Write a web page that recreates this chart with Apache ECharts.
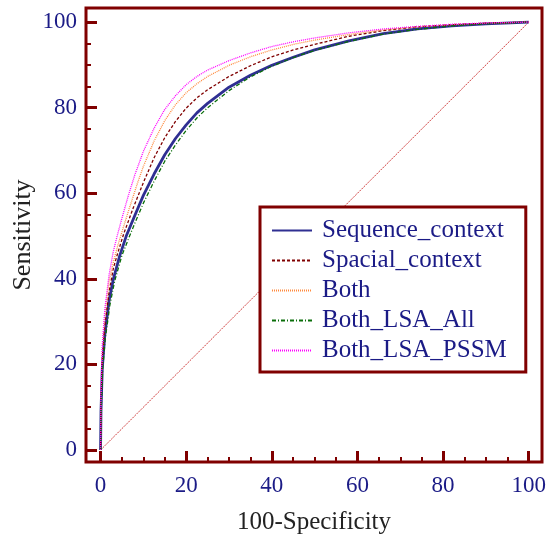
<!DOCTYPE html>
<html>
<head>
<meta charset="utf-8">
<script src="https://cdn.jsdelivr.net/npm/echarts@6/dist/echarts.min.js"></script>
<style>
html,body{margin:0;padding:0;background:#fff;}
#chart{width:548px;height:535px;}
</style>
</head>
<body>
<div id="chart"></div>
<script>
// ---- data ----
const seriesNames = ['Sequence_context', 'Spacial_context', 'Both', 'Both_LSA_All', 'Both_LSA_PSSM'];

const seqX = [0, 0.1, 0.4, 1, 2, 3, 4.5, 6, 8, 10, 12.5, 15, 17.5, 20, 22.5, 25, 30, 35, 40, 45, 50, 58, 66, 74, 82, 90, 100];
const seqY = [0, 9, 19, 27, 35, 40, 45.5, 50, 54.8, 59.5, 64.5, 69, 72.8, 76, 78.8, 81, 84.8, 87.6, 89.9, 91.8, 93.5, 95.6, 97.3, 98.4, 99.1, 99.6, 100];

const spaX = [0, 0.1, 0.4, 1, 2, 3, 4, 5.4, 7.6, 10, 12.5, 15, 17.5, 20, 22.5, 25, 30, 35, 40, 45, 50, 58, 66, 74, 82, 90, 100];
const spaY = [0, 10, 21, 29, 37, 42.5, 46, 50.5, 56.5, 62.5, 68.3, 73, 76.8, 79.9, 82.3, 84.2, 87.3, 89.8, 91.9, 93.5, 94.8, 96.7, 98, 98.9, 99.4, 99.75, 100];

const bothX = [0, 0.1, 0.4, 1, 2, 3, 4, 5, 6.5, 8.5, 10, 12.5, 15, 17.5, 20, 22.5, 25, 30, 35, 40, 45, 50, 58, 66, 74, 82, 90, 100];
const bothY = [0, 12, 23, 31.5, 39.5, 44, 47.7, 51, 55.8, 62, 66.3, 72.2, 77, 80.7, 83.5, 85.6, 87.3, 89.9, 91.9, 93.5, 94.8, 95.8, 97.1, 98.2, 98.9, 99.4, 99.75, 100];

const lsaAllX = [0, 0.1, 0.5, 1.1, 2.2, 3.3, 5, 6.5, 8, 10, 12.5, 15, 17.5, 20, 22.5, 25, 30, 35, 40, 45, 50, 58, 66, 74, 82, 90, 100];
const lsaAllY = [0, 8, 19, 26, 34, 39.5, 45.5, 49.3, 53, 57.7, 62.8, 67.5, 71.3, 74.7, 77.6, 80, 84, 87.2, 89.7, 91.7, 93.4, 95.5, 97.2, 98.3, 99.1, 99.6, 100];

const lsaPssmX = [0, 0.1, 0.4, 1, 2, 3, 4, 5, 6.5, 8, 10, 12.5, 15, 17.5, 20, 22.5, 25, 30, 35, 40, 45, 50, 58, 66, 74, 82, 90, 100];
const lsaPssmY = [0, 13, 24.5, 33, 41, 46.5, 50.5, 54.2, 59.5, 64.3, 69.8, 75.2, 79.6, 82.8, 85.4, 87.3, 88.8, 91, 92.8, 94.3, 95.4, 96.3, 97.5, 98.4, 99, 99.5, 99.8, 100];

const diagX = [0, 100];
const diagY = [0, 100];

const majorTicks = [0, 20, 40, 60, 80, 100];
const minorTicks = [0, 5, 10, 15, 20, 25, 30, 35, 40, 45, 50, 55, 60, 65, 70, 75, 80, 85, 90, 95, 100];

// ---- styling ----
const FONT = "'Liberation Serif', 'DejaVu Serif', serif";
const DARKRED = '#800000';
const NAVY = '#1b1b86';

function zip(xs, ys) { return xs.map((x, i) => [x, ys[i]]); }

const styles = [
  { color: '#2f2f92', width: 2.8, type: 'solid' },
  { color: '#800000', width: 1.3, type: [3, 2] },
  { color: '#ff8a3d', width: 1.3, type: [1, 1] },
  { color: '#0a6e0a', width: 1.3, type: [4, 2, 1, 2] },
  { color: '#ff00ff', width: 1.3, type: [1, 1] }
];
const xs = [seqX, spaX, bothX, lsaAllX, lsaPssmX];
const ys = [seqY, spaY, bothY, lsaAllY, lsaPssmY];

const xMin = -3.4, xMax = 103.1, yMin = -2.8, yMax = 103.3;

function majorAxis(name, isX) {
  return {
    type: 'value', min: isX ? xMin : yMin, max: isX ? xMax : yMax,
    position: isX ? 'bottom' : 'left',
    name: name, nameLocation: 'middle', nameGap: isX ? 48 : 50,
    nameMoveOverlap: false,
    nameTextStyle: { fontFamily: FONT, fontSize: isX ? 25 : 26, color: '#222' },
    axisLine: { show: false, onZero: false },
    splitLine: { show: false },
    axisTick: { show: true, inside: true, length: 11, customValues: majorTicks, lineStyle: { color: DARKRED, width: 3 } },
    axisLabel: { show: true, customValues: majorTicks, margin: isX ? 12 : 9, fontFamily: FONT, fontSize: 23, color: NAVY }
  };
}
function minorAxis(isX) {
  return {
    type: 'value', min: isX ? xMin : yMin, max: isX ? xMax : yMax,
    position: isX ? 'bottom' : 'left',
    axisLine: { show: false, onZero: false },
    splitLine: { show: false },
    axisTick: { show: true, inside: true, length: 5, customValues: minorTicks, lineStyle: { color: DARKRED, width: 2 } },
    axisLabel: { show: false }
  };
}

const series = [{
  name: 'diagonal', type: 'line', xAxisIndex: 0, yAxisIndex: 0,
  data: zip(diagX, diagY), symbol: 'none', silent: true,
  lineStyle: { color: '#d04040', width: 1, type: [2, 1] }, z: 1
}];
seriesNames.forEach((n, i) => {
  series.push({
    name: n, type: 'line', xAxisIndex: 0, yAxisIndex: 0,
    data: zip(xs[i], ys[i]), symbol: 'none', showSymbol: false,
    itemStyle: { color: styles[i].color },
    lineStyle: { color: styles[i].color, width: styles[i].width, type: styles[i].type },
    z: 2 + i
  });
});

const chart = echarts.init(document.getElementById('chart'), null, { renderer: 'canvas' });
chart.setOption({
  animation: false,
  backgroundColor: '#fff',
  grid: { left: 86, right: 6, top: 8, bottom: 73, show: true, borderColor: DARKRED, borderWidth: 3,
          backgroundColor: 'transparent', containLabel: false, outerBoundsMode: 'none' },
  xAxis: [majorAxis('100-Specificity', true), minorAxis(true)],
  yAxis: [majorAxis('Sensitivity', false), minorAxis(false)],
  legend: {
    data: seriesNames, orient: 'vertical', left: 260, top: 207,
    backgroundColor: '#fff',
    borderColor: DARKRED, borderWidth: 3, borderRadius: 0,
    padding: [11, 19, 9, 11],
    itemWidth: 40, itemHeight: 0.01, itemGap: 5,
    selectedMode: false,
    textStyle: { fontFamily: FONT, fontSize: 25, color: NAVY, lineHeight: 25, padding: [0, 0, 0, 5] }
  },
  series: series
});
</script>
</body>
</html>
